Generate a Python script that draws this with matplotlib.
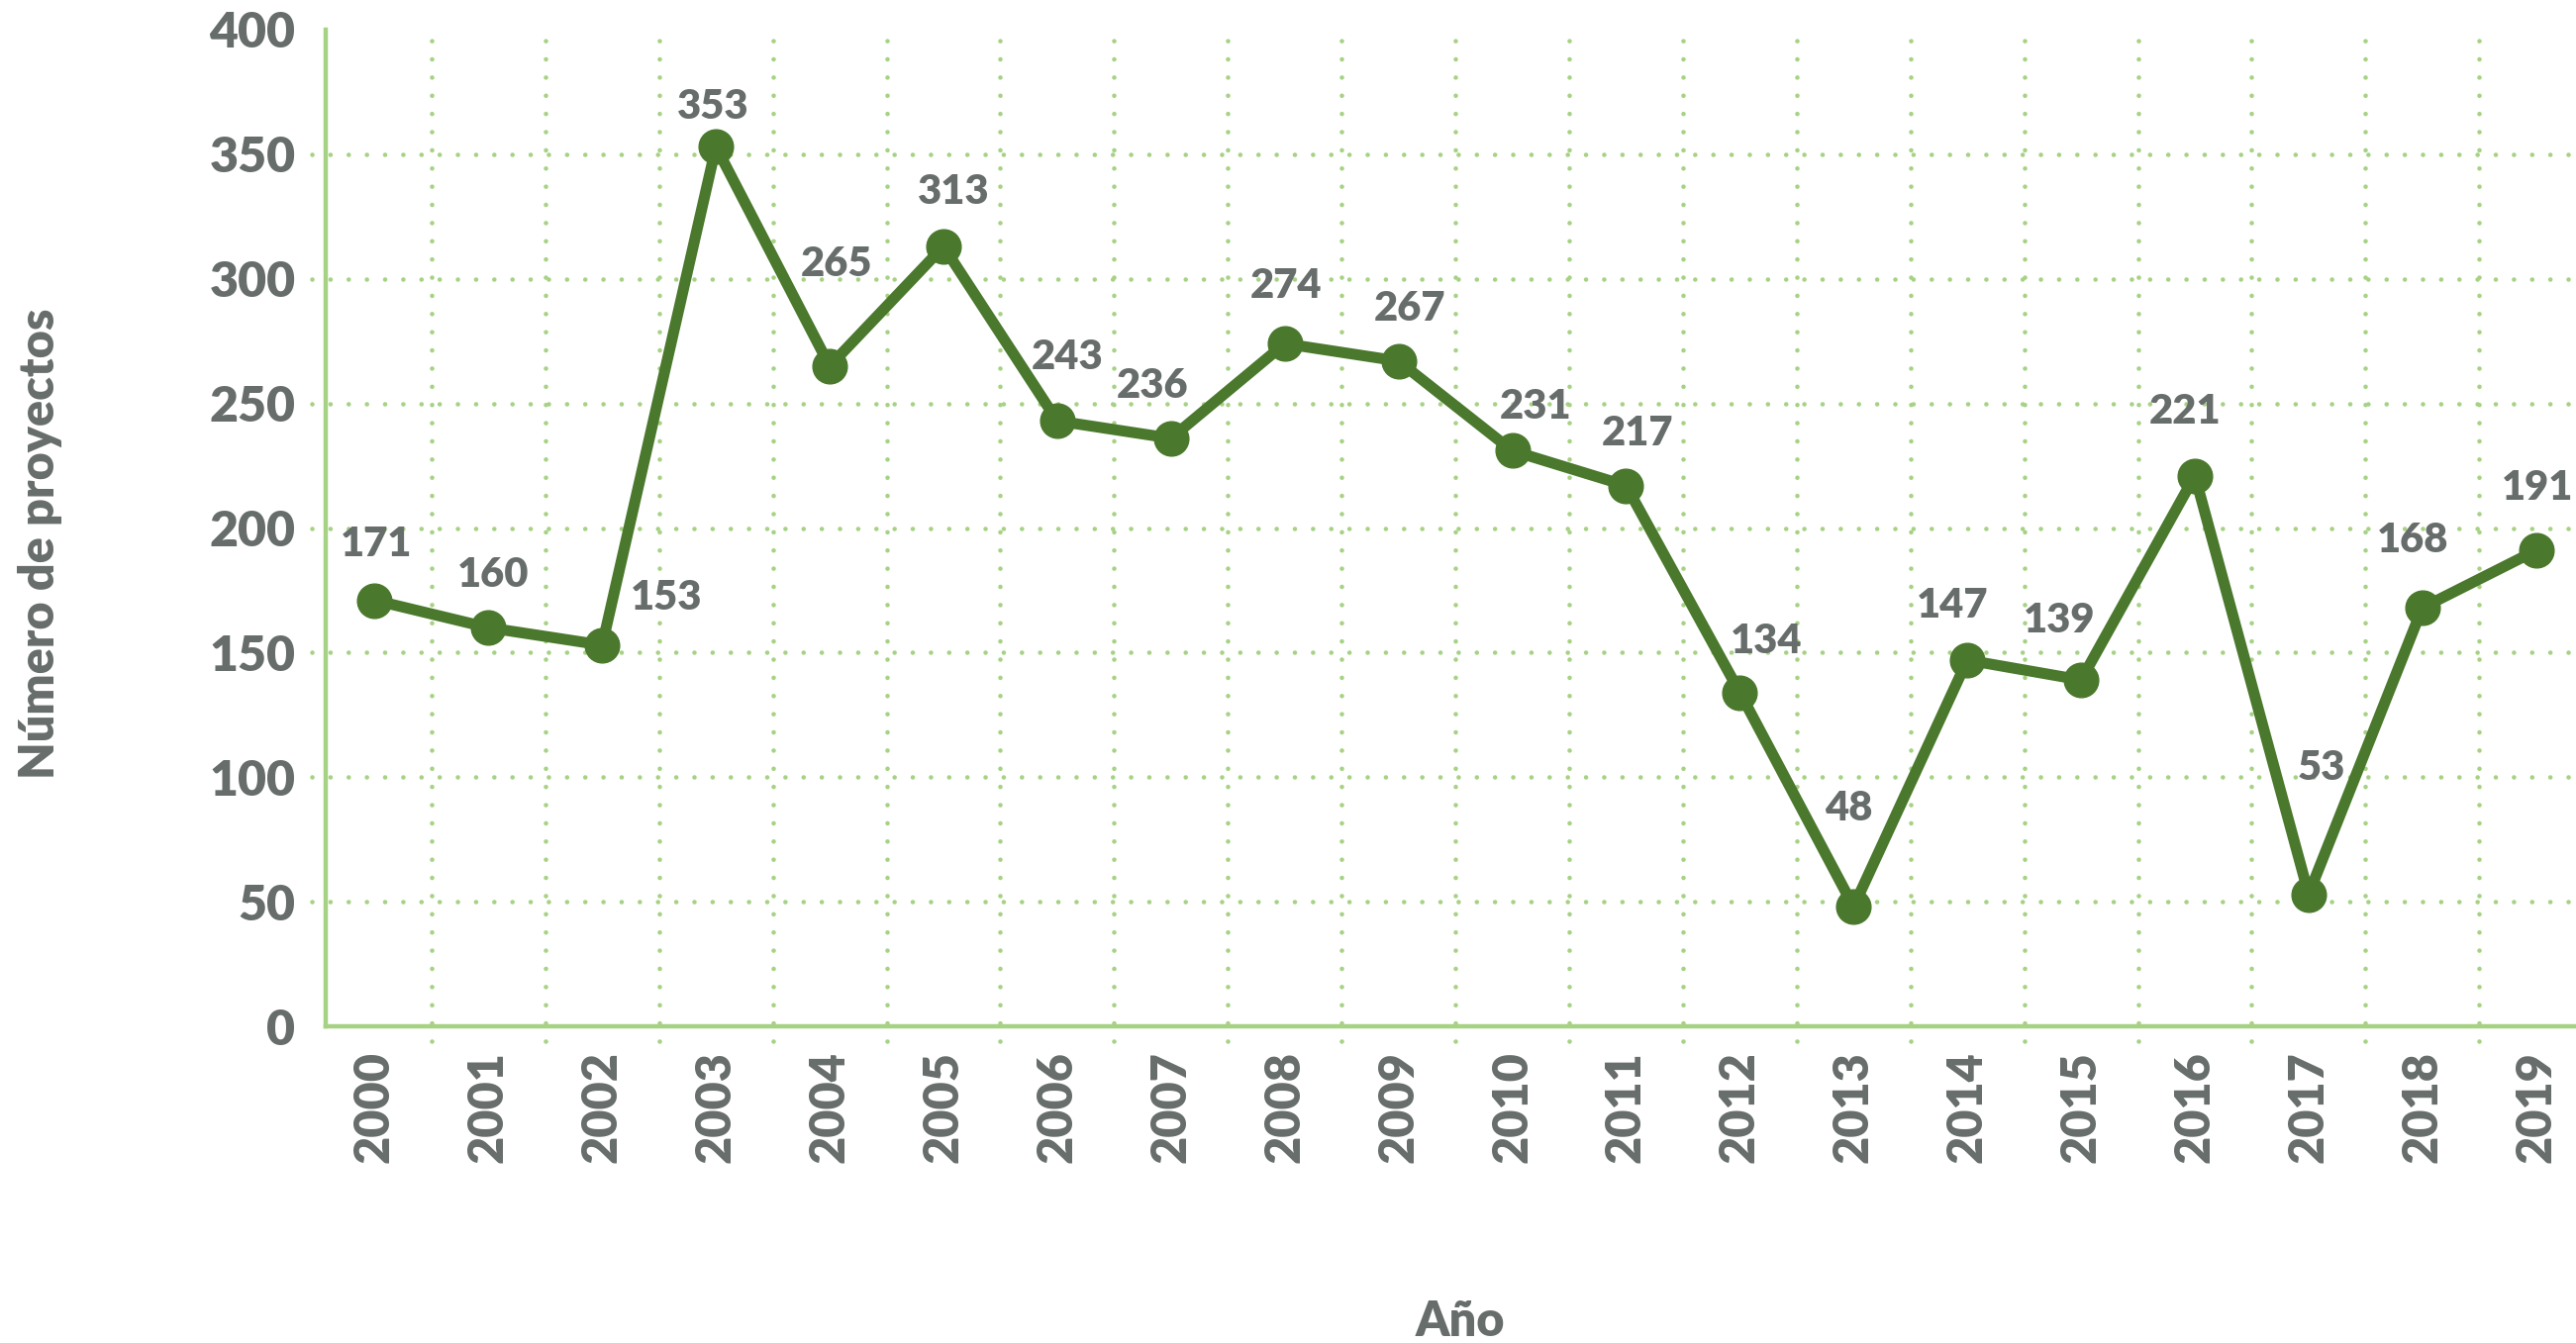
import matplotlib.pyplot as plt

# data
years = ['2000', '2001', '2002', '2003', '2004', '2005', '2006', '2007', '2008', '2009',
         '2010', '2011', '2012', '2013', '2014', '2015', '2016', '2017', '2018', '2019']
projects = [171, 160, 153, 353, 265, 313, 243, 236, 274, 267,
            231, 217, 134, 48, 147, 139, 221, 53, 168, 191]
y_ticks = [0, 50, 100, 150, 200, 250, 300, 350, 400]

# label offsets (pixels, measured on the shrunk reference)
label_dx = [1, 3, 39, -2, 4, 6, 6, -11, 1, 7, 14, 7, 16, -3, -9, -13, -6, 8, -6, 1]
label_dy = [34, 32, 29, 24, 62, 33, 39, 32, 35, 32, 27, 32, 31, 60, 33, 36, 39, 77, 41, 38]

TEXT = '#676d6b'
LINE = '#4a782c'
GRID = '#a6d283'
FONT = 'Lato'
WEIGHT = 'heavy'
SCALE = 2602 / 1568

fig = plt.figure(figsize=(26.02, 13.57), dpi=100)
ax = fig.add_axes([329 / 2602, 1 - 1037 / 1357, 1 - 329 / 2602, (1037 - 30) / 1357])

x = list(range(len(years)))

# dotted grid
dots = dict(color=GRID, linewidth=3.3, linestyles=(0, (0.01, 4.0)),
            capstyle='round', clip_on=False, zorder=1)
ax.hlines(y_ticks[1:-1], -0.55, 19.35, **dots)
ax.vlines([i + 0.5 for i in x[:-1]], -6, 400, **dots)

ax.plot(x, projects, color=LINE, linewidth=8, marker='o', markersize=25,
        solid_joinstyle='round', zorder=3, clip_on=False)

for i, v in enumerate(projects):
    ax.annotate(str(v), (i, v), xytext=(label_dx[i] * SCALE, label_dy[i] * SCALE),
                textcoords='offset pixels', ha='center', va='center',
                fontsize=30, fontweight=WEIGHT, color=TEXT, family=FONT)

ax.set_xlim(-0.43, 19.35)
ax.set_ylim(0, 400)
ax.set_xticks(x)
ax.set_xticklabels(years, rotation=90, fontsize=35, fontweight=WEIGHT,
                   color=TEXT, family=FONT)
ax.set_yticks(y_ticks)
ax.set_yticklabels([str(t) for t in y_ticks], fontsize=36, fontweight=WEIGHT,
                   color=TEXT, family=FONT)
ax.tick_params(axis='both', length=0)
ax.tick_params(axis='x', pad=18)
ax.tick_params(axis='y', pad=22)

for side in ['top', 'right']:
    ax.spines[side].set_visible(False)
for side in ['left', 'bottom']:
    ax.spines[side].set_color(GRID)
    ax.spines[side].set_linewidth(3.2)

fig.text(41 / 2602, 1 - 549 / 1357, 'Número de proyectos', rotation=90,
         ha='center', va='center', fontsize=35, fontweight=WEIGHT,
         color=TEXT, family=FONT)
fig.text(1475 / 2602, 1 - 1336 / 1357, 'Año', ha='center', va='center',
         fontsize=35, fontweight=WEIGHT, color=TEXT, family=FONT)

fig.savefig('out.png', dpi=100)
